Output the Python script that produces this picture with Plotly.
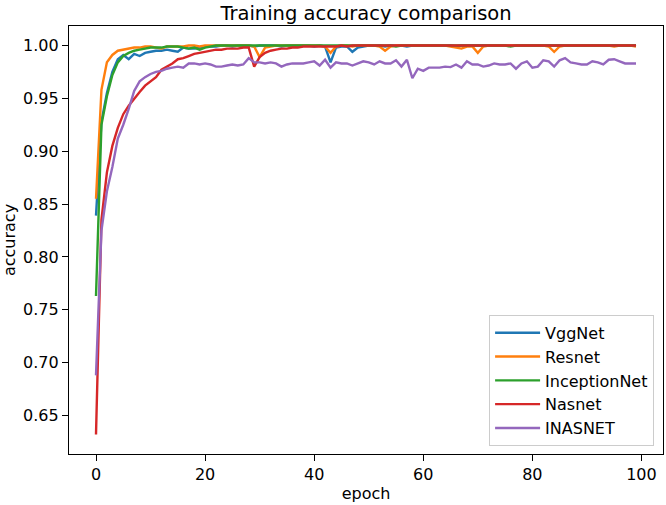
import plotly.graph_objects as go

epochs = list(range(100))

vggnet = [0.839, 0.928, 0.955, 0.975, 0.987, 0.991, 0.987, 0.992, 0.990, 0.993,
          0.994, 0.995, 0.995, 0.996, 0.995, 0.994, 0.998, 0.997, 0.997, 0.998,
          0.999, 0.999, 0.999, 1.000, 1.000, 0.999, 1.000, 1.000, 1.000, 0.999,
          1.000, 1.000, 1.000, 1.000, 0.999, 1.000, 1.000, 1.000, 1.000, 1.000,
          0.999, 1.000, 0.999, 0.984, 0.998, 0.999, 0.999, 0.994, 0.998, 0.999,
          1.000, 1.000, 1.000, 0.999, 1.000, 1.000, 1.000, 0.999, 1.000, 1.000,
          1.000, 1.000, 1.000, 1.000, 1.000, 1.000, 0.999, 1.000, 1.000, 1.000,
          1.000, 1.000, 1.000, 1.000, 1.000, 1.000, 1.000, 1.000, 1.000, 1.000,
          1.000, 1.000, 1.000, 1.000, 1.000, 1.000, 1.000, 1.000, 1.000, 1.000,
          1.000, 1.000, 1.000, 1.000, 1.000, 1.000, 1.000, 1.000, 1.000, 1.000]

resnet = [0.855, 0.958, 0.984, 0.991, 0.995, 0.996, 0.997, 0.998, 0.998, 0.999,
          0.999, 0.998, 0.997, 0.999, 0.999, 0.999, 0.999, 1.000, 1.000, 0.999,
          1.000, 1.000, 1.000, 1.000, 1.000, 1.000, 1.000, 1.000, 1.000, 0.999,
          0.989, 0.998, 0.999, 1.000, 1.000, 1.000, 1.000, 1.000, 1.000, 1.000,
          1.000, 1.000, 0.999, 0.993, 0.999, 1.000, 1.000, 0.999, 1.000, 1.000,
          1.000, 1.000, 0.999, 0.995, 0.999, 1.000, 1.000, 1.000, 1.000, 1.000,
          1.000, 1.000, 1.000, 1.000, 1.000, 0.999, 0.998, 0.997, 0.999, 0.999,
          0.993, 0.999, 1.000, 1.000, 1.000, 1.000, 1.000, 1.000, 1.000, 1.000,
          1.000, 1.000, 1.000, 0.999, 0.994, 0.999, 1.000, 1.000, 1.000, 1.000,
          1.000, 1.000, 1.000, 1.000, 1.000, 0.999, 1.000, 1.000, 1.000, 0.999]

inceptionnet = [0.763, 0.925, 0.952, 0.972, 0.984, 0.990, 0.993, 0.995, 0.996, 0.997,
                0.998, 0.998, 0.998, 0.999, 0.999, 0.999, 0.998, 0.997, 0.998, 0.996,
                0.998, 0.999, 1.000, 1.000, 1.000, 1.000, 1.000, 1.000, 1.000, 1.000,
                1.000, 1.000, 1.000, 1.000, 1.000, 1.000, 1.000, 1.000, 1.000, 1.000,
                1.000, 1.000, 1.000, 1.000, 1.000, 1.000, 1.000, 1.000, 1.000, 1.000,
                1.000, 1.000, 1.000, 1.000, 1.000, 0.999, 1.000, 1.000, 1.000, 1.000,
                1.000, 1.000, 1.000, 1.000, 1.000, 1.000, 1.000, 1.000, 1.000, 1.000,
                1.000, 1.000, 1.000, 1.000, 1.000, 1.000, 0.999, 1.000, 1.000, 1.000,
                1.000, 1.000, 1.000, 1.000, 1.000, 1.000, 1.000, 1.000, 1.000, 1.000,
                1.000, 1.000, 1.000, 1.000, 1.000, 1.000, 1.000, 1.000, 1.000, 1.000]

nasnet = [0.632, 0.835, 0.880, 0.905, 0.922, 0.935, 0.943, 0.950, 0.956, 0.962,
          0.966, 0.970, 0.977, 0.980, 0.983, 0.987, 0.988, 0.990, 0.992, 0.993,
          0.994, 0.995, 0.996, 0.996, 0.997, 0.997, 0.997, 0.998, 0.998, 0.980,
          0.989, 0.993, 0.995, 0.996, 0.997, 0.997, 0.998, 0.998, 0.999, 0.999,
          0.999, 0.999, 0.999, 0.999, 0.999, 1.000, 0.999, 1.000, 1.000, 1.000,
          1.000, 1.000, 1.000, 1.000, 1.000, 1.000, 1.000, 1.000, 1.000, 1.000,
          1.000, 1.000, 1.000, 1.000, 1.000, 1.000, 1.000, 1.000, 1.000, 1.000,
          1.000, 1.000, 1.000, 1.000, 1.000, 1.000, 1.000, 1.000, 1.000, 1.000,
          1.000, 1.000, 1.000, 1.000, 1.000, 1.000, 1.000, 1.000, 1.000, 1.000,
          1.000, 1.000, 1.000, 1.000, 1.000, 1.000, 1.000, 1.000, 1.000, 1.000]

inasnet = [0.688, 0.825, 0.862, 0.885, 0.912, 0.925, 0.940, 0.957, 0.966, 0.970,
           0.973, 0.975, 0.976, 0.978, 0.979, 0.980, 0.979, 0.983, 0.983, 0.982,
           0.983, 0.982, 0.980, 0.980, 0.981, 0.982, 0.981, 0.982, 0.988, 0.984,
           0.984, 0.983, 0.984, 0.983, 0.980, 0.982, 0.983, 0.983, 0.983, 0.984,
           0.985, 0.981, 0.9865, 0.979, 0.984, 0.983, 0.983, 0.981, 0.983, 0.985,
           0.984, 0.982, 0.985, 0.983, 0.983, 0.986, 0.980, 0.9865, 0.969, 0.978,
           0.976, 0.979, 0.979, 0.979, 0.980, 0.9795, 0.982, 0.979, 0.985, 0.982,
           0.982, 0.980, 0.981, 0.983, 0.982, 0.982, 0.983, 0.978, 0.983, 0.985,
           0.979, 0.980, 0.986, 0.985, 0.980, 0.986, 0.988, 0.984, 0.983, 0.982,
           0.982, 0.985, 0.984, 0.982, 0.9865, 0.987, 0.985, 0.983, 0.983, 0.983]

series_names = ["VggNet", "Resnet", "InceptionNet", "Nasnet", "INASNET"]
series_values = [vggnet, resnet, inceptionnet, nasnet, inasnet]
colors = ["#1f77b4", "#ff7f0e", "#2ca02c", "#d62728", "#9467bd"]

x_ticks = [0, 20, 40, 60, 80, 100]
y_ticks = [0.65, 0.70, 0.75, 0.80, 0.85, 0.90, 0.95, 1.00]

FONT = "DejaVu Sans"

fig = go.Figure()
for name, vals, col in zip(series_names, series_values, colors):
    fig.add_trace(go.Scatter(x=epochs, y=vals, mode="lines", name=name,
                             line=dict(color=col, width=2.4)))

axis_common = dict(showline=True, linecolor="black", linewidth=1.3, mirror=True,
                   showgrid=False, zeroline=False, ticks="outside", ticklen=6,
                   tickwidth=1.3, tickcolor="black",
                   tickfont=dict(family=FONT, size=16, color="black"))

fig.update_layout(
    width=666, height=505,
    margin=dict(l=69, r=3, t=26, b=51, autoexpand=False),
    plot_bgcolor="white", paper_bgcolor="white",
    title=dict(text="Training accuracy comparison", x=0.5, xref="paper",
               y=1, yref="paper", yanchor="bottom", pad=dict(b=6),
               font=dict(family=FONT, size=19.5, color="black")),
    xaxis=dict(range=[-4.95, 103.95], tickvals=x_ticks,
               title=dict(text="epoch", standoff=4,
                          font=dict(family=FONT, size=16, color="black")),
               **axis_common),
    yaxis=dict(range=[0.6136, 1.0184], tickvals=y_ticks, tickformat=".2f",
               title=dict(text="accuracy", standoff=6,
                          font=dict(family=FONT, size=16, color="black")),
               **axis_common),
    legend=dict(x=0.985, y=0.019, xanchor="right", yanchor="bottom",
                bgcolor="white", bordercolor="#cccccc", borderwidth=1,
                font=dict(family=FONT, size=16, color="black"),
                itemwidth=45, tracegroupgap=0),
    showlegend=True,
)

fig.write_html("out.html", config={"displayModeBar": False},
               post_script="document.body.style.margin='0';document.body.style.overflow='hidden';")
